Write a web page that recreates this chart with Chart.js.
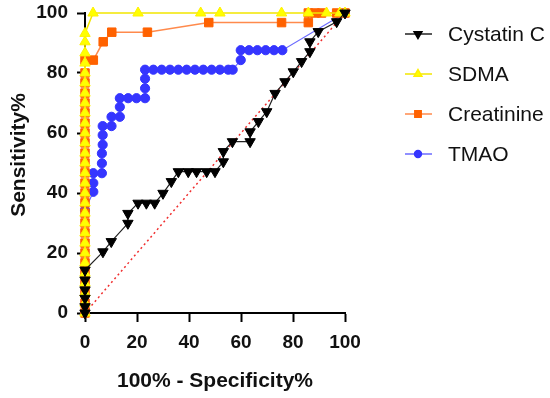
<!DOCTYPE html>
<html>
<head>
<meta charset="utf-8">
<script src="https://cdn.jsdelivr.net/npm/chart.js@4"></script>
<style>
  html, body { margin: 0; padding: 0; background: #fff; }
  #wrap { width: 550px; height: 398px; }
</style>
</head>
<body>
<div id="wrap"><canvas id="roc" width="550" height="398"></canvas></div>
<script>
// ---- data (x = 100% - Specificity%, y = Sensitivity%) ----
const cystatinX = [0, 0, 0, 0, 0, 0, 6.9, 10.1, 16.5, 16.5, 20.4, 23.6, 26.8, 30, 33.2, 35.9, 39.7, 42.9, 46.8, 50, 53.2, 53.2, 56.7, 63.5, 63.5, 66.7, 69.9, 73.1, 76.9, 80.1, 83.3, 86.5, 86.5, 89.7, 96.8, 100];
const cystatinY = [0, 2.1, 4.9, 7.7, 11, 14.3, 20.4, 23.8, 29.9, 33.2, 36.6, 36.6, 36.6, 39.9, 43.8, 47.1, 47.1, 47.1, 47.1, 47.1, 50.4, 53.8, 57.1, 57.1, 60.4, 63.8, 67.1, 73.2, 77.1, 80.4, 83.8, 87.1, 90.4, 93.8, 97.1, 100];

const sdmaX = [0, 0, 0, 0, 0, 0, 0, 0, 0, 0, 0, 0, 0, 0, 0, 0, 0, 0, 0, 0, 0, 0, 0, 0, 0, 0, 0, 0, 0, 3.1, 20.4, 44.5, 51.9, 75.6, 85.9, 92.9, 98, 100];
const sdmaY = [0, 3.3, 6.7, 10, 13.3, 16.7, 20, 23.3, 26.7, 30, 33.3, 36.7, 40, 43.3, 46.7, 50, 53.3, 56.7, 60, 63.3, 66.7, 70, 73.3, 76.7, 80, 83.3, 86.7, 90.4, 93.2, 100, 100, 100, 100, 100, 100, 100, 100, 100];

const creatX = [0, 0, 0, 0, 0, 0, 0, 0, 0, 0, 0, 0, 0, 0, 0, 0, 0, 0, 0, 0, 0, 0, 0, 0, 0, 0, 3.2, 7.0, 10.3, 24, 47.6, 75.6, 85.9, 85.9, 88.5, 91, 96.8, 100];
const creatY = [0, 3.3, 6.7, 10, 13.3, 16.7, 20, 23.3, 26.7, 30, 33.3, 36.7, 40, 43.3, 46.7, 50, 53.3, 56.7, 60, 63.3, 66.7, 70, 73.3, 76.7, 80, 84.3, 84.3, 90.4, 93.6, 93.6, 96.8, 96.8, 96.8, 100, 100, 100, 100, 100];

const tmaoX = [0, 0, 3.2, 3.2, 3.2, 6.5, 6.5, 6.5, 6.8, 6.8, 6.8, 10.2, 10.2, 13.4, 13.4, 13.4, 16.6, 19.8, 23.1, 23.1, 23.1, 23.1, 26.3, 29.5, 32.7, 35.9, 39.1, 42.3, 45.5, 48.7, 51.9, 55.1, 56.8, 59.9, 59.9, 63.1, 66.3, 69.5, 72.7, 75.9, 100];
const tmaoY = [0, 34.3, 40.4, 43.3, 46.6, 46.6, 49.9, 53.2, 56.1, 59.3, 62.3, 62.3, 65.4, 65.4, 68.7, 71.6, 71.6, 71.6, 71.6, 74.9, 78.1, 81.1, 81.1, 81.1, 81.1, 81.1, 81.1, 81.1, 81.1, 81.1, 81.1, 81.1, 81.1, 84.3, 87.6, 87.6, 87.6, 87.6, 87.6, 87.6, 100];

const refX = [0, 100];
const refY = [0, 100];

const ticks = [0, 20, 40, 60, 80, 100];
const yTitle = "Sensitivity%";

const pts = (xs, ys) => xs.map((x, i) => ({ x: x, y: ys[i] }));
const FAMILY = "'Liberation Sans', Arial, sans-serif";

// legend beside the plot (line + marker + label) and the y title, which sits a bit above centre
const extras = {
  id: "extras",
  afterDraw(chart) {
    const ctx = chart.ctx;
    const rows = [34, 74, 114, 154];
    chart.data.datasets.forEach((ds, i) => {
      if (i >= rows.length) return;
      const y = rows[i];
      ctx.save();
      ctx.strokeStyle = ds.borderColor;
      ctx.lineWidth = 1.5;
      ctx.beginPath();
      ctx.moveTo(405, y);
      ctx.lineTo(432, y);
      ctx.stroke();
      ctx.fillStyle = ds.pointBackgroundColor;
      ctx.strokeStyle = ds.pointBorderColor;
      Chart.helpers.drawPoint(ctx, {
        pointStyle: ds.pointStyle,
        radius: ds.pointRadius * 0.75,
        rotation: ds.pointRotation || 0,
        borderWidth: 1
      }, 418, y);
      ctx.fillStyle = "#111";
      ctx.font = "21px " + FAMILY;
      ctx.textBaseline = "middle";
      ctx.fillText(ds.label, 448, y + 1);
      ctx.restore();
    });

    ctx.save();
    ctx.translate(19, 155);
    ctx.rotate(-Math.PI / 2);
    ctx.fillStyle = "#111";
    ctx.font = "bold 21px " + FAMILY;
    ctx.textAlign = "center";
    ctx.textBaseline = "middle";
    ctx.fillText(yTitle, 0, 0);
    ctx.restore();
  }
};

const tickFont = { family: FAMILY, size: 19, weight: "bold" };
const titleFont = { family: FAMILY, size: 21, weight: "bold" };

new Chart(document.getElementById("roc"), {
  type: "line",
  data: {
    datasets: [
      {
        label: "Cystatin C",
        data: pts(cystatinX, cystatinY),
        borderColor: "#222",
        borderWidth: 1.2,
        pointStyle: "triangle",
        pointRotation: 180,
        pointRadius: 6,
        pointBackgroundColor: "#000",
        pointBorderColor: "#000",
        pointBorderWidth: 1
      },
      {
        label: "SDMA",
        data: pts(sdmaX, sdmaY),
        borderColor: "#F2E600",
        borderWidth: 1.5,
        pointStyle: "triangle",
        pointRadius: 6,
        pointBackgroundColor: "#FFFF00",
        pointBorderColor: "#FFF000",
        pointBorderWidth: 1
      },
      {
        label: "Creatinine",
        data: pts(creatX, creatY),
        borderColor: "#FF8A4C",
        borderWidth: 1.5,
        pointStyle: "rect",
        pointRadius: 6,
        pointBackgroundColor: "#FF6200",
        pointBorderColor: "#FF6200",
        pointBorderWidth: 1
      },
      {
        label: "TMAO",
        data: pts(tmaoX, tmaoY),
        borderColor: "#6B6BFF",
        borderWidth: 1.2,
        pointStyle: "circle",
        pointRadius: 4.6,
        pointBackgroundColor: "#3535FF",
        pointBorderColor: "#3535FF",
        pointBorderWidth: 1
      },
      {
        label: "reference",
        data: pts(refX, refY),
        borderColor: "#F03030",
        borderWidth: 1.5,
        borderDash: [2, 3],
        pointRadius: 0
      }
    ]
  },
  options: {
    responsive: false,
    animation: false,
    clip: false,
    layout: { padding: { left: 0, right: 205, top: 13, bottom: 0 } },
    plugins: { legend: { display: false }, tooltip: { enabled: false } },
    scales: {
      x: {
        type: "linear",
        min: 0,
        max: 100,
        afterBuildTicks: s => { s.ticks = ticks.map(v => ({ value: v })); },
        afterFit: s => { s.height = 85; s.paddingLeft = 0; s.paddingRight = 0; },
        border: { color: "#000", width: 2 },
        grid: { drawOnChartArea: false, drawTicks: true, tickLength: 9, tickColor: "#000", tickWidth: 2 },
        ticks: { color: "#111", font: tickFont, padding: 9, maxRotation: 0 },
        title: { display: true, text: "100% - Specificity%", color: "#111", font: titleFont, padding: { top: 4 } }
      },
      y: {
        type: "linear",
        min: 0,
        max: 100,
        afterBuildTicks: s => { s.ticks = ticks.map(v => ({ value: v })); },
        afterFit: s => { s.width = 85; s.paddingTop = 0; s.paddingBottom = 0; },
        border: { color: "#000", width: 2 },
        grid: { drawOnChartArea: false, drawTicks: true, tickLength: 8, tickColor: "#000", tickWidth: 2 },
        ticks: { color: "#111", font: tickFont, padding: 9 },
        title: { display: false }
      }
    }
  },
  plugins: [extras]
});
</script>
</body>
</html>
